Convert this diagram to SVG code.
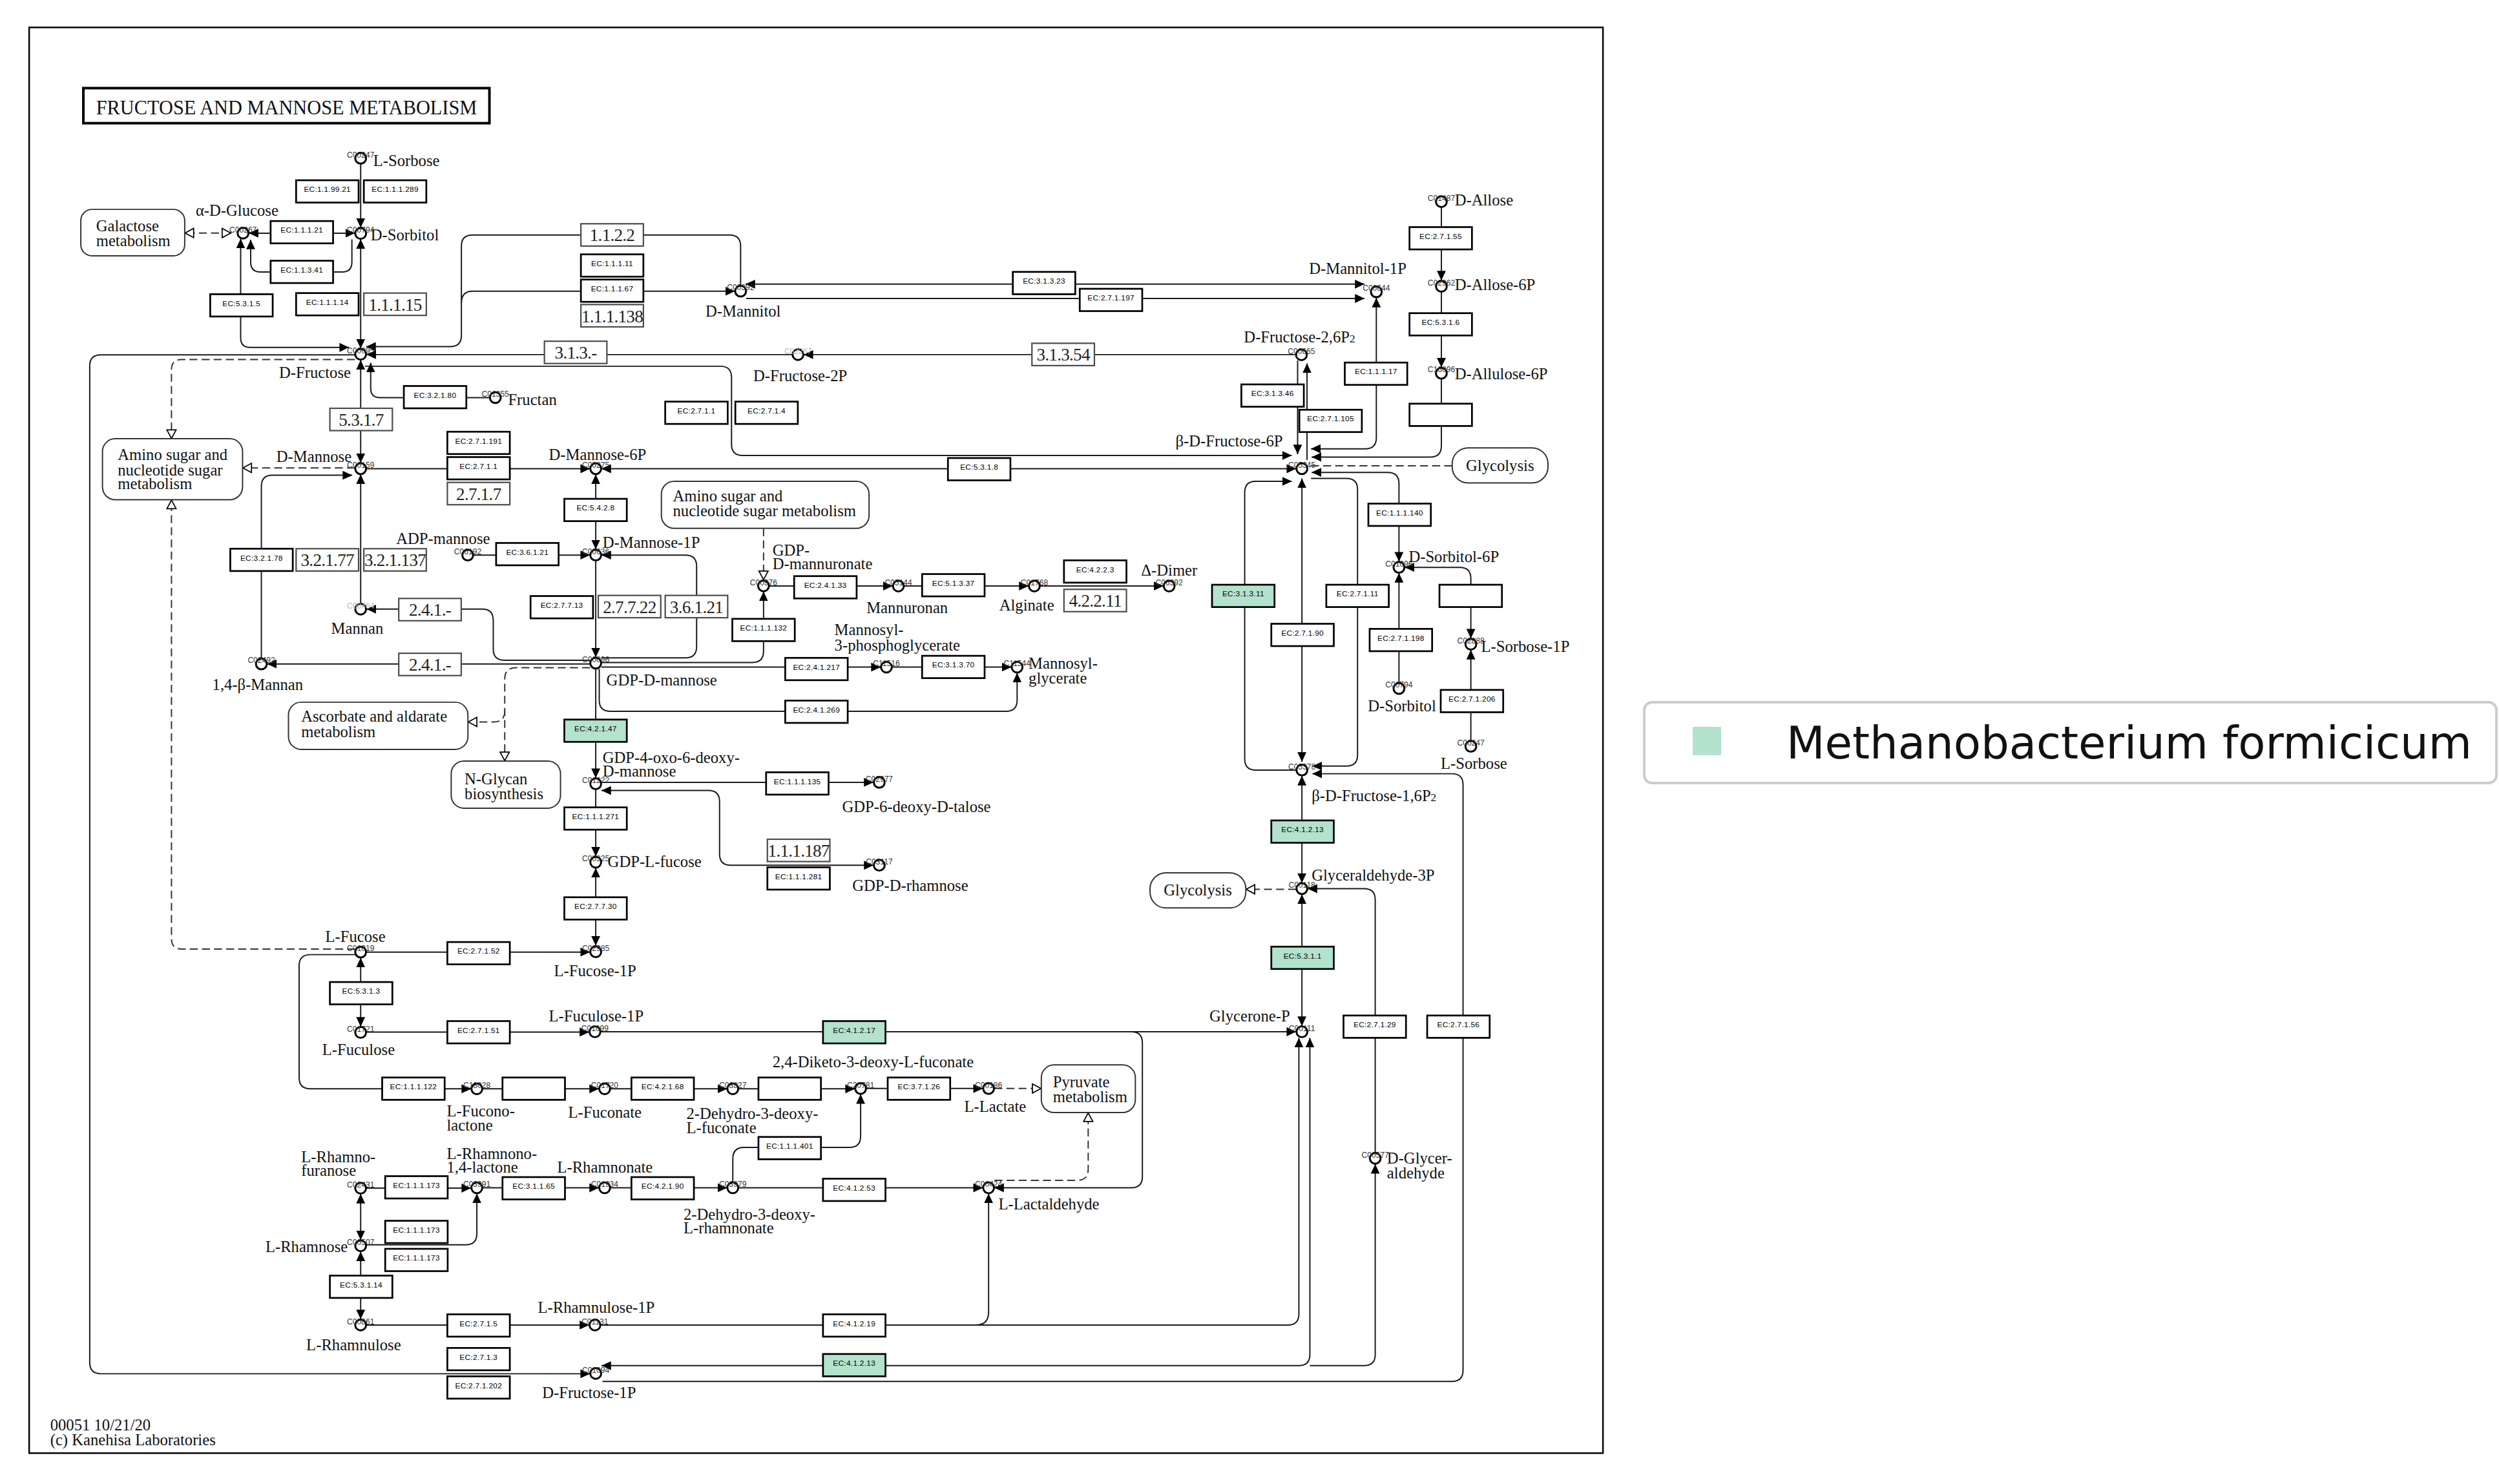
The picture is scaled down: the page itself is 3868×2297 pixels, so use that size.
<svg xmlns="http://www.w3.org/2000/svg" width="3868" height="2297" viewBox="0 0 3868 2297">
<defs>
<style>
.e{fill:none;stroke:#1a1a1a;stroke-width:0.8}
.a1{marker-end:url(#ar)}
.a2{marker-start:url(#ar);marker-end:url(#ar)}
.d{fill:none;stroke:#333;stroke-width:0.8;stroke-dasharray:5 2.6}
.h1{marker-end:url(#ho)}
.h2{marker-start:url(#ho);marker-end:url(#ho)}
.ec rect{fill:#fff;stroke:#000;stroke-width:1.1}
.ec.g rect{fill:#b3e2cd}
.ec text{font-family:"Liberation Sans",Arial,sans-serif;font-size:4.8px;text-anchor:middle;fill:#000;letter-spacing:0.12px}
.nm rect{fill:#fff;stroke:#4d4d4d;stroke-width:0.9}
.nm text{font-family:"Liberation Serif","Times New Roman",serif;font-size:11px;text-anchor:middle;fill:#222;letter-spacing:-0.3px}
.cp circle{fill:#fff;stroke:#000;stroke-width:1.2}
.id{font-family:"Liberation Sans",Arial,sans-serif;font-size:4.9px;text-anchor:middle;fill:#333}
.lt{fill:#bbb}
.lb{font-family:"Liberation Serif","Times New Roman",serif;font-size:10px;fill:#111}
.r{text-anchor:end}
.mp rect{fill:#fff;stroke:#333;stroke-width:0.8}
.sub{font-size:7px}
</style>
<marker id="ar" markerUnits="userSpaceOnUse" viewBox="0 0 6 6" markerWidth="6" markerHeight="6" refX="6" refY="3" orient="auto-start-reverse"><path d="M0,0.2L6,3L0,5.8z" fill="#000"/></marker>
<marker id="ho" markerUnits="userSpaceOnUse" viewBox="0 0 7 7" markerWidth="7" markerHeight="7" refX="6.2" refY="3.5" orient="auto-start-reverse"><path d="M0.6,0.6L6,3.5L0.6,6.4z" fill="#fff" stroke="#000" stroke-width="0.7"/></marker>
</defs>
<rect width="3868" height="2297" fill="#fff"/>
<g transform="scale(2.4668)">
<!-- outer frame and title -->
<rect x="18.3" y="17.2" width="987.5" height="894.6" fill="none" stroke="#000" stroke-width="1"/>
<g id="title">
<rect x="52.3" y="55.3" width="254.8" height="22" fill="#fff" stroke="#000" stroke-width="1.6"/>
<text x="60.3" y="71.6" font-family="Liberation Serif, Times New Roman, serif" font-size="12.5" textLength="239" lengthAdjust="spacingAndGlyphs" fill="#111">FRUCTOSE AND MANNOSE METABOLISM</text>
</g>

<g id="connectors">
<path class="e a1" d="M226.3,102.9V142.9"/>
<path class="e a2" d="M156.1,146.3H222.7"/>
<path class="e a1" d="M220.8,150.2V164.5Q220.8,170.7 214.6,170.7H163.5Q157.3,170.7 157.3,164.5V150.4"/>
<path class="e a2" d="M151,149.8V212Q151,218 157,218H219"/>
<path class="e a2" d="M226.3,150.1V218.7"/>
<path class="e a2" d="M226.3,225.9V290.5"/>
<path class="e a1" d="M307.4,249.5H238.5Q232.6,249.5 232.6,243.6V227.6"/>
<path class="e a1" d="M464.7,179.1V154.5Q464.7,147.5 457.7,147.5H296.5Q289.5,147.5 289.5,154.5V210.5Q289.5,217.5 282.5,217.5H229.8"/>
<path class="e a1" d="M289.5,190Q289.5,182.7 296.5,182.7H461.1"/>
<path class="e a1" d="M497.1,222.5H229.9"/>
<path class="e a1" d="M812.9,222.5H504.2"/>
<path class="e a1" d="M229,229.8H452Q459,229.8 459,236.8V278.8Q459,285.8 466,285.8H810.5"/>
<path class="e a1" d="M229.8,294.1H370.2"/>
<path class="e a2" d="M377.4,294.1H813.3"/>
<path class="e a2" d="M373.8,297.7V344.7"/>
<path class="e a1" d="M296.9,348.3H370.2"/>
<path class="e a1" d="M377.4,412.8H430.1Q437.1,412.8 437.1,405.8V355.3Q437.1,348.3 430.1,348.3H377.4"/>
<path class="e a1" d="M373.8,351.9V412.5"/>
<path class="e a1" d="M370.3,414.3H316.5Q309.5,414.3 309.5,407.3V389.2Q309.5,382.2 302.5,382.2H229.9"/>
<path class="e a1" d="M370.3,416.6H167.6"/>
<path class="e a1" d="M164,413V305.2Q164,298.2 171,298.2H221"/>
<path class="e a1" d="M226.3,378.6V297.7"/>
<path class="d h1" d="M222.7,225.6H114Q107.6,225.6 107.6,232V275.3"/>
<path class="d h1" d="M222.7,293.6H152.2"/>
<path class="d h1" d="M222.9,595.5H114Q107.6,595.5 107.6,589V313.6"/>
<path class="d h2" d="M145,146.2H115.9"/>
<path class="e a1" d="M222.7,222.7H63.3Q56.3,222.7 56.3,229.7V855Q56.3,862 63.3,862H370.2"/>
<path class="e a2" d="M467.8,178.3H856.2"/>
<path class="e a1" d="M468.2,187.3H856.2"/>
<path class="e a2" d="M863.6,186.9V274.6Q863.6,281.6 856.6,281.6H822.6"/>
<path class="e a1" d="M904.4,130.1V176"/>
<path class="e a1" d="M904.4,183.2V230.6"/>
<path class="e a1" d="M904.4,237.8V279.8Q904.4,286.8 897.4,286.8H823"/>
<path class="e a1" d="M814.2,226.2V285"/>
<path class="e a1" d="M820.1,288.6V228"/>
<path class="d" d="M911.2,292.3H822"/>
<path class="e a1" d="M813.3,483.2H788Q781,483.2 781,476.2V309Q781,302 788,302H810.5"/>
<path class="e a2" d="M816.9,300.2V478"/>
<path class="e a1" d="M822.6,300.2H844.8Q851.8,300.2 851.8,307.2V473.7Q851.8,480.7 844.8,480.7H823.5"/>
<path class="e a2" d="M823,296.4H870.8Q877.8,296.4 877.8,303.4V352.4"/>
<path class="e a1" d="M877.8,428.4V359.6"/>
<path class="e a2" d="M881.4,356H915.9Q922.9,356 922.9,363V400.6"/>
<path class="e a1" d="M922.9,464.7V407.8"/>
<path class="e a1" d="M378,866.8H911Q918,866.8 918,859.8V492.5Q918,485.5 911,485.5H823.5"/>
<path class="e a2" d="M816.9,486.8V554"/>
<path class="e a2" d="M816.9,561.2V643.8"/>
<path class="d h1" d="M813.3,558H781.7"/>
<path class="e a1" d="M862.9,723.2V564.6Q862.9,557.6 855.9,557.6H820.5"/>
<path class="e a1" d="M376.9,647.4H813.3"/>
<path class="e a1" d="M709.8,647.4Q716.8,647.4 716.8,654.4V738.3Q716.8,745.3 709.8,745.3H623.9"/>
<path class="e a1" d="M463.4,745.3H616.7"/>
<path class="e a1" d="M376.9,831.4H808Q815,831.4 815,824.4V651.2"/>
<path class="e a1" d="M612.3,831.4Q620.3,831.4 620.3,823.4V748.9"/>
<path class="e a2" d="M377.4,856.9H814.9Q821.9,856.9 821.9,849.9V651.2"/>
<path class="e a1" d="M821.9,856.9H855.9Q862.9,856.9 862.9,849.9V730.4"/>
<path class="e a2" d="M226.3,601V644.2"/>
<path class="e a1" d="M229.9,597.4H370.2"/>
<path class="e a1" d="M229.9,647.6H369.7"/>
<path class="e a2" d="M373.8,544.6V593.4"/>
<path class="e a1" d="M373.8,495.4V537.4"/>
<path class="e a1" d="M373.8,419.7V488.2"/>
<path class="e a1" d="M377.4,490.9H548.1"/>
<path class="e a2" d="M377.4,496H444.5Q451.5,496 451.5,503V535.9Q451.5,542.9 458.5,542.9H548.1"/>
<path class="e a1" d="M377.4,415.7H472.1Q479.1,415.7 479.1,408.7V371.1"/>
<path class="d h1" d="M479.1,331.5V363.9"/>
<path class="e a1" d="M482.7,367.7H560.1"/>
<path class="e a1" d="M567.3,367.7H645.4"/>
<path class="e a1" d="M652.6,367.7H730"/>
<path class="e a1" d="M377.3,418.6H552.6"/>
<path class="e a1" d="M559.8,418.6H634.6"/>
<path class="e a1" d="M376,419.7V439.3Q376,446.3 383,446.3H631.2Q638.2,446.3 638.2,439.3V422.2"/>
<path class="d h1" d="M370.2,419H323.7Q316.7,419 316.7,426V477.5"/>
<path class="d h1" d="M316.7,446Q316.7,453 309.7,453H293.6"/>
<path class="e a1" d="M222.9,599H194.7Q187.7,599 187.7,606V676.2Q187.7,683.2 194.7,683.2H295.6"/>
<path class="e a1" d="M302.8,683.2H375.8"/>
<path class="e a1" d="M383,683.2H456.2"/>
<path class="e a1" d="M463.4,683.2H536.4"/>
<path class="e a1" d="M459.8,741.7V727Q459.8,720 466.8,720H533Q540,720 540,713V686.6"/>
<path class="e a1" d="M543.6,683H616.7"/>
<path class="d h1" d="M623.9,683H653.4"/>
<path class="d h1" d="M624,740.6H675.8Q682.8,740.6 682.8,733.6V698.1"/>
<path class="e a1" d="M229.9,745.5H295.6"/>
<path class="e a1" d="M229.9,781.1H292.2Q299.2,781.1 299.2,774.1V748.9"/>
<path class="e a2" d="M226.3,749.1V778.1"/>
<path class="e a2" d="M226.3,785.3V827.8"/>
<path class="e a1" d="M229.9,831.4H369.7"/>
<path class="e a1" d="M302.8,745.3H375.8"/>
<path class="e a1" d="M383,745.3H456.2"/>
</g>

<!-- pathway map links -->
<g id="map-galactose" class="mp"><rect x="50.7" y="131.4" width="65.2" height="29.1" rx="7"/><text class="lb" x="60.3" y="145.2">Galactose</text><text class="lb" x="60.3" y="154.4">metabolism</text></g>
<g id="map-aminosugar-1" class="mp"><rect x="64.3" y="275.3" width="87.9" height="38.3" rx="8"/><text class="lb" x="73.9" y="288.7">Amino sugar and</text><text class="lb" x="73.9" y="298.3">nucleotide sugar</text><text class="lb" x="73.9" y="306.9">metabolism</text></g>
<g id="map-aminosugar-2" class="mp"><rect x="415" y="302" width="130.3" height="29.5" rx="8"/><text class="lb" x="422.2" y="314.5">Amino sugar and</text><text class="lb" x="422.2" y="323.9">nucleotide sugar metabolism</text></g>
<g id="map-ascorbate" class="mp"><rect x="181" y="440.6" width="112.6" height="29.6" rx="8"/><text class="lb" x="189" y="453">Ascorbate and aldarate</text><text class="lb" x="189" y="462.6">metabolism</text></g>
<g id="map-nglycan" class="mp"><rect x="283.1" y="477.5" width="68.6" height="29.6" rx="8"/><text class="lb" x="291.5" y="492.2">N-Glycan</text><text class="lb" x="291.5" y="501.4">biosynthesis</text></g>
<g id="map-glycolysis-1" class="mp"><rect x="911.2" y="281" width="60.1" height="22" rx="10"/><text class="lb" x="941.2" y="295.4" text-anchor="middle">Glycolysis</text></g>
<g id="map-glycolysis-2" class="mp"><rect x="721.6" y="547.7" width="60.1" height="22" rx="10"/><text class="lb" x="751.6" y="562" text-anchor="middle">Glycolysis</text></g>
<g id="map-pyruvate" class="mp"><rect x="653.4" y="668.2" width="59" height="29.9" rx="8"/><text class="lb" x="660.7" y="682.2">Pyruvate</text><text class="lb" x="660.7" y="691.4">metabolism</text></g>

<!-- enzyme boxes -->
<g id="ec-1-1-99-21" class="ec"><rect x="185.8" y="113.1" width="39.2" height="14"/><text x="205.4" y="120.5">EC:1.1.99.21</text></g>
<g id="ec-1-1-1-289" class="ec"><rect x="228.3" y="113.1" width="39.2" height="14"/><text x="247.9" y="120.5">EC:1.1.1.289</text></g>
<g id="ec-1-1-1-21" class="ec"><rect x="169.8" y="138.7" width="39.2" height="14"/><text x="189.4" y="146.1">EC:1.1.1.21</text></g>
<g id="ec-1-1-3-41" class="ec"><rect x="169.8" y="163.6" width="39.2" height="14"/><text x="189.4" y="171">EC:1.1.3.41</text></g>
<g id="ec-5-3-1-5" class="ec"><rect x="131.9" y="184.6" width="39.2" height="14"/><text x="151.5" y="192">EC:5.3.1.5</text></g>
<g id="ec-1-1-1-14" class="ec"><rect x="185.8" y="183.9" width="39.2" height="14"/><text x="205.4" y="191.3">EC:1.1.1.14</text></g>
<g id="nm-1-1-1-15" class="nm"><rect x="228.3" y="183.9" width="39.2" height="14"/><text x="247.9" y="194.9">1.1.1.15</text></g>
<g id="nm-1-1-2-2" class="nm"><rect x="364.5" y="140.4" width="39.2" height="14"/><text x="384.1" y="151.4">1.1.2.2</text></g>
<g id="ec-1-1-1-11" class="ec"><rect x="364.5" y="159.6" width="39.2" height="14"/><text x="384.1" y="167">EC:1.1.1.11</text></g>
<g id="ec-1-1-1-67" class="ec"><rect x="364.5" y="175.4" width="39.2" height="14"/><text x="384.1" y="182.8">EC:1.1.1.67</text></g>
<g id="nm-1-1-1-138" class="nm"><rect x="364.5" y="191.1" width="39.2" height="14"/><text x="384.1" y="202.1">1.1.1.138</text></g>
<g id="nm-3-1-3-x" class="nm"><rect x="341.6" y="214.1" width="39.2" height="14"/><text x="361.2" y="225.1">3.1.3.-</text></g>
<g id="ec-3-2-1-80" class="ec"><rect x="253.4" y="242.2" width="39.2" height="14"/><text x="273" y="249.6">EC:3.2.1.80</text></g>
<g id="nm-5-3-1-7" class="nm"><rect x="207" y="256.2" width="39.2" height="14"/><text x="226.6" y="267.2">5.3.1.7</text></g>
<g id="ec-2-7-1-191" class="ec"><rect x="280.7" y="270.9" width="39.2" height="14"/><text x="300.3" y="278.3">EC:2.7.1.191</text></g>
<g id="ec-2-7-1-1-a" class="ec"><rect x="280.7" y="286.8" width="39.2" height="14"/><text x="300.3" y="294.2">EC:2.7.1.1</text></g>
<g id="nm-2-7-1-7" class="nm"><rect x="280.7" y="302.7" width="39.2" height="14"/><text x="300.3" y="313.7">2.7.1.7</text></g>
<g id="ec-2-7-1-1-b" class="ec"><rect x="417.4" y="252" width="39.2" height="14"/><text x="437" y="259.4">EC:2.7.1.1</text></g>
<g id="ec-2-7-1-4" class="ec"><rect x="461.4" y="252" width="39.2" height="14"/><text x="481" y="259.4">EC:2.7.1.4</text></g>
<g id="ec-3-1-3-23" class="ec"><rect x="635.5" y="170.6" width="39.2" height="14"/><text x="655.1" y="178">EC:3.1.3.23</text></g>
<g id="ec-2-7-1-197" class="ec"><rect x="677.5" y="181.2" width="39.2" height="14"/><text x="697.1" y="188.6">EC:2.7.1.197</text></g>
<g id="nm-3-1-3-54" class="nm"><rect x="647.5" y="215.4" width="39.2" height="14"/><text x="667.1" y="226.4">3.1.3.54</text></g>
<g id="ec-5-3-1-8" class="ec"><rect x="594.8" y="287.4" width="39.2" height="14"/><text x="614.4" y="294.8">EC:5.3.1.8</text></g>
<g id="ec-2-7-1-55" class="ec"><rect x="884.4" y="142.5" width="39.2" height="14"/><text x="904" y="149.9">EC:2.7.1.55</text></g>
<g id="ec-5-3-1-6" class="ec"><rect x="884.4" y="196.5" width="39.2" height="14"/><text x="904" y="203.9">EC:5.3.1.6</text></g>
<g id="ec-blank-1" class="ec"><rect x="884.4" y="253.3" width="39.2" height="14"/></g>
<g id="ec-1-1-1-17" class="ec"><rect x="843.8" y="227.5" width="39.2" height="14"/><text x="863.4" y="234.9">EC:1.1.1.17</text></g>
<g id="ec-3-1-3-46" class="ec"><rect x="778.9" y="241.2" width="39.2" height="14"/><text x="798.5" y="248.6">EC:3.1.3.46</text></g>
<g id="ec-2-7-1-105" class="ec"><rect x="815.3" y="257.1" width="39.2" height="14"/><text x="834.9" y="264.5">EC:2.7.1.105</text></g>
<g id="ec-1-1-1-140" class="ec"><rect x="858.6" y="316" width="39.2" height="14"/><text x="878.2" y="323.4">EC:1.1.1.140</text></g>
<g id="ec-3-1-3-11" class="ec g"><rect x="760.5" y="366.9" width="39.2" height="14"/><text x="780.1" y="374.3">EC:3.1.3.11</text></g>
<g id="ec-2-7-1-11" class="ec"><rect x="832.2" y="366.9" width="39.2" height="14"/><text x="851.8" y="374.3">EC:2.7.1.11</text></g>
<g id="ec-2-7-1-90" class="ec"><rect x="797.7" y="391.4" width="39.2" height="14"/><text x="817.3" y="398.8">EC:2.7.1.90</text></g>
<g id="ec-2-7-1-198" class="ec"><rect x="859.4" y="394.6" width="39.2" height="14"/><text x="879" y="402">EC:2.7.1.198</text></g>
<g id="ec-blank-2" class="ec"><rect x="903.2" y="366.9" width="39.2" height="14"/></g>
<g id="ec-2-7-1-206" class="ec"><rect x="904" y="432.9" width="39.2" height="14"/><text x="923.6" y="440.3">EC:2.7.1.206</text></g>
<g id="ec-4-1-2-13-a" class="ec g"><rect x="797.7" y="514.8" width="39.2" height="14"/><text x="817.3" y="522.2">EC:4.1.2.13</text></g>
<g id="ec-5-3-1-1" class="ec g"><rect x="797.7" y="594" width="39.2" height="14"/><text x="817.3" y="601.4">EC:5.3.1.1</text></g>
<g id="ec-2-7-1-29" class="ec"><rect x="843" y="637.2" width="39.2" height="14"/><text x="862.6" y="644.6">EC:2.7.1.29</text></g>
<g id="ec-2-7-1-56" class="ec"><rect x="895.5" y="637.2" width="39.2" height="14"/><text x="915.1" y="644.6">EC:2.7.1.56</text></g>
<g id="ec-5-4-2-8" class="ec"><rect x="354.1" y="313" width="39.2" height="14"/><text x="373.7" y="320.4">EC:5.4.2.8</text></g>
<g id="ec-3-2-1-78" class="ec"><rect x="144.5" y="344.3" width="39.2" height="14"/><text x="164.1" y="351.7">EC:3.2.1.78</text></g>
<g id="nm-3-2-1-77" class="nm"><rect x="185.8" y="344.3" width="39.2" height="14"/><text x="205.4" y="355.3">3.2.1.77</text></g>
<g id="nm-3-2-1-137" class="nm"><rect x="228.3" y="344.3" width="39.2" height="14"/><text x="247.9" y="355.3">3.2.1.137</text></g>
<g id="ec-3-6-1-21" class="ec"><rect x="311.3" y="340.7" width="39.2" height="14"/><text x="330.9" y="348.1">EC:3.6.1.21</text></g>
<g id="nm-2-4-1-x-a" class="nm"><rect x="250.2" y="375.5" width="39.2" height="14"/><text x="269.8" y="386.5">2.4.1.-</text></g>
<g id="nm-2-4-1-x-b" class="nm"><rect x="250.2" y="409.9" width="39.2" height="14"/><text x="269.8" y="420.9">2.4.1.-</text></g>
<g id="ec-2-7-7-13" class="ec"><rect x="332.9" y="374" width="39.2" height="14"/><text x="352.5" y="381.4">EC:2.7.7.13</text></g>
<g id="nm-2-7-7-22" class="nm"><rect x="375.4" y="373.6" width="39.2" height="14"/><text x="395" y="384.6">2.7.7.22</text></g>
<g id="nm-3-6-1-21" class="nm"><rect x="417.4" y="373.6" width="39.2" height="14"/><text x="437" y="384.6">3.6.1.21</text></g>
<g id="ec-1-1-1-132" class="ec"><rect x="459.5" y="388.3" width="39.2" height="14"/><text x="479.1" y="395.7">EC:1.1.1.132</text></g>
<g id="ec-2-4-1-33" class="ec"><rect x="498.3" y="361.5" width="39.2" height="14"/><text x="517.9" y="368.9">EC:2.4.1.33</text></g>
<g id="ec-5-1-3-37" class="ec"><rect x="578.6" y="360.2" width="39.2" height="14"/><text x="598.2" y="367.6">EC:5.1.3.37</text></g>
<g id="ec-4-2-2-3" class="ec"><rect x="667.6" y="351.6" width="39.2" height="14"/><text x="687.2" y="359">EC:4.2.2.3</text></g>
<g id="nm-4-2-2-11" class="nm"><rect x="667.6" y="369.8" width="39.2" height="14"/><text x="687.2" y="380.8">4.2.2.11</text></g>
<g id="ec-2-4-1-217" class="ec"><rect x="492.7" y="412.8" width="39.2" height="14"/><text x="512.3" y="420.2">EC:2.4.1.217</text></g>
<g id="ec-3-1-3-70" class="ec"><rect x="578.6" y="411.5" width="39.2" height="14"/><text x="598.2" y="418.9">EC:3.1.3.70</text></g>
<g id="ec-2-4-1-269" class="ec"><rect x="492.7" y="439.6" width="39.2" height="14"/><text x="512.3" y="447">EC:2.4.1.269</text></g>
<g id="ec-4-2-1-47" class="ec g"><rect x="354.1" y="451.5" width="39.2" height="14"/><text x="373.7" y="458.9">EC:4.2.1.47</text></g>
<g id="ec-1-1-1-135" class="ec"><rect x="480.7" y="484.6" width="39.2" height="14"/><text x="500.3" y="492">EC:1.1.1.135</text></g>
<g id="ec-1-1-1-271" class="ec"><rect x="354.1" y="506.6" width="39.2" height="14"/><text x="373.7" y="514">EC:1.1.1.271</text></g>
<g id="nm-1-1-1-187" class="nm"><rect x="481.5" y="526.6" width="39.2" height="14"/><text x="501.1" y="537.6">1.1.1.187</text></g>
<g id="ec-1-1-1-281" class="ec"><rect x="481.5" y="544.2" width="39.2" height="14"/><text x="501.1" y="551.6">EC:1.1.1.281</text></g>
<g id="ec-2-7-7-30" class="ec"><rect x="354.1" y="563" width="39.2" height="14"/><text x="373.7" y="570.4">EC:2.7.7.30</text></g>
<g id="ec-2-7-1-52" class="ec"><rect x="280.7" y="591.1" width="39.2" height="14"/><text x="300.3" y="598.5">EC:2.7.1.52</text></g>
<g id="ec-5-3-1-3" class="ec"><rect x="207" y="616.2" width="39.2" height="14"/><text x="226.6" y="623.6">EC:5.3.1.3</text></g>
<g id="ec-2-7-1-51" class="ec"><rect x="280.7" y="640.7" width="39.2" height="14"/><text x="300.3" y="648.1">EC:2.7.1.51</text></g>
<g id="ec-4-1-2-17" class="ec g"><rect x="516.4" y="640.7" width="39.2" height="14"/><text x="536" y="648.1">EC:4.1.2.17</text></g>
<g id="ec-1-1-1-122" class="ec"><rect x="239.8" y="676.1" width="39.2" height="14"/><text x="259.4" y="683.5">EC:1.1.1.122</text></g>
<g id="ec-blank-3" class="ec"><rect x="315.3" y="676.1" width="39.2" height="14"/></g>
<g id="ec-4-2-1-68" class="ec"><rect x="396.2" y="676.1" width="39.2" height="14"/><text x="415.8" y="683.5">EC:4.2.1.68</text></g>
<g id="ec-blank-4" class="ec"><rect x="475.9" y="676.1" width="39.2" height="14"/></g>
<g id="ec-3-7-1-26" class="ec"><rect x="557" y="676.1" width="39.2" height="14"/><text x="576.6" y="683.5">EC:3.7.1.26</text></g>
<g id="ec-1-1-1-401" class="ec"><rect x="475.9" y="713.4" width="39.2" height="14"/><text x="495.5" y="720.8">EC:1.1.1.401</text></g>
<g id="ec-1-1-1-173-a" class="ec"><rect x="241.7" y="738" width="39.2" height="14"/><text x="261.3" y="745.4">EC:1.1.1.173</text></g>
<g id="ec-3-1-1-65" class="ec"><rect x="315.3" y="738.6" width="39.2" height="14"/><text x="334.9" y="746">EC:3.1.1.65</text></g>
<g id="ec-4-2-1-90" class="ec"><rect x="396.2" y="738.6" width="39.2" height="14"/><text x="415.8" y="746">EC:4.2.1.90</text></g>
<g id="ec-4-1-2-53" class="ec"><rect x="516.4" y="739.6" width="39.2" height="14"/><text x="536" y="747">EC:4.1.2.53</text></g>
<g id="ec-1-1-1-173-b" class="ec"><rect x="241.7" y="766" width="39.2" height="14"/><text x="261.3" y="773.4">EC:1.1.1.173</text></g>
<g id="ec-1-1-1-173-c" class="ec"><rect x="241.7" y="783.6" width="39.2" height="14"/><text x="261.3" y="791">EC:1.1.1.173</text></g>
<g id="ec-5-3-1-14" class="ec"><rect x="207" y="800.4" width="39.2" height="14"/><text x="226.6" y="807.8">EC:5.3.1.14</text></g>
<g id="ec-2-7-1-5" class="ec"><rect x="280.7" y="824.7" width="39.2" height="14"/><text x="300.3" y="832.1">EC:2.7.1.5</text></g>
<g id="ec-4-1-2-19" class="ec"><rect x="516.4" y="824.7" width="39.2" height="14"/><text x="536" y="832.1">EC:4.1.2.19</text></g>
<g id="ec-2-7-1-3" class="ec"><rect x="280.7" y="845.8" width="39.2" height="14"/><text x="300.3" y="853.2">EC:2.7.1.3</text></g>
<g id="ec-2-7-1-202" class="ec"><rect x="280.7" y="863.6" width="39.2" height="14"/><text x="300.3" y="871">EC:2.7.1.202</text></g>
<g id="ec-4-1-2-13-b" class="ec g"><rect x="516.4" y="849.6" width="39.2" height="14"/><text x="536" y="857">EC:4.1.2.13</text></g>

<!-- compounds -->
<g id="C00247-a" class="cp"><circle cx="226.3" cy="99.3" r="3.4"/><text class="id" x="226.3" y="98.8">C00247</text><text class="lb" x="234.2" y="104.1">L-Sorbose</text></g>
<g id="C00267" class="cp"><circle cx="152.5" cy="146.3" r="3.4"/><text class="id" x="152.5" y="145.8">C00267</text><text class="lb" x="122.8" y="135.6">α-D-Glucose</text></g>
<g id="C00794-a" class="cp"><circle cx="226.3" cy="146.5" r="3.4"/><text class="id" x="226.3" y="146">C00794</text><text class="lb" x="232.6" y="151">D-Sorbitol</text></g>
<g id="C00095" class="cp"><circle cx="226.3" cy="222.3" r="3.4"/><text class="id" x="226.3" y="221.8">C00095</text><text class="lb r" x="220.1" y="237">D-Fructose</text></g>
<g id="C00159" class="cp"><circle cx="226.3" cy="294.1" r="3.4"/><text class="id" x="226.3" y="293.6">C00159</text><text class="lb r" x="220.6" y="289.7">D-Mannose</text></g>
<g id="C01355" class="cp"><circle cx="310.8" cy="249.5" r="3.4"/><text class="id" x="310.8" y="249">C01355</text><text class="lb" x="318.8" y="254.3">Fructan</text></g>
<g id="C00392" class="cp"><circle cx="464.7" cy="182.7" r="3.4"/><text class="id" x="464.7" y="182.2">C00392</text><text class="lb" x="442.7" y="198.8">D-Mannitol</text></g>
<g id="C02267" class="cp"><circle cx="500.7" cy="222.5" r="3.4"/><text class="id lt" x="500.7" y="222">C02267</text><text class="lb" x="472.7" y="239">D-Fructose-2P</text></g>
<g id="C00275" class="cp"><circle cx="373.8" cy="294.1" r="3.4"/><text class="id" x="373.8" y="293.6">C00275</text><text class="lb" x="344.4" y="288.7">D-Mannose-6P</text></g>
<g id="C00644" class="cp"><circle cx="863.6" cy="183.1" r="3.4"/><text class="id" x="863.6" y="182.6">C00644</text><text class="lb" x="821.4" y="172">D-Mannitol-1P</text></g>
<g id="C00665" class="cp"><circle cx="816.6" cy="222.6" r="3.4"/><text class="id" x="816.6" y="222.1">C00665</text><text class="lb" x="780.5" y="215">D-Fructose-2,6P<tspan class="sub">2</tspan></text></g>
<g id="C05345" class="cp"><circle cx="816.9" cy="294.1" r="3.4"/><text class="id" x="816.9" y="293.6">C05345</text><text class="lb" x="737.6" y="280.1">β-D-Fructose-6P</text></g>
<g id="C01487" class="cp"><circle cx="904.4" cy="126.5" r="3.4"/><text class="id" x="904.4" y="126">C01487</text><text class="lb" x="912.8" y="129">D-Allose</text></g>
<g id="C02962" class="cp"><circle cx="904.4" cy="179.6" r="3.4"/><text class="id" x="904.4" y="179.1">C02962</text><text class="lb" x="912.8" y="181.9">D-Allose-6P</text></g>
<g id="C16096" class="cp"><circle cx="904.4" cy="234.2" r="3.4"/><text class="id" x="904.4" y="233.7">C16096</text><text class="lb" x="912.8" y="238">D-Allulose-6P</text></g>
<g id="C01096" class="cp"><circle cx="877.8" cy="356" r="3.4"/><text class="id" x="877.8" y="355.5">C01096</text><text class="lb" x="883.9" y="352.5">D-Sorbitol-6P</text></g>
<g id="C00794-b" class="cp"><circle cx="877.8" cy="432" r="3.4"/><text class="id" x="877.8" y="431.5">C00794</text><text class="lb" x="858.3" y="446.3">D-Sorbitol</text></g>
<g id="C02888" class="cp"><circle cx="922.9" cy="404.2" r="3.4"/><text class="id" x="922.9" y="403.7">C02888</text><text class="lb" x="929.3" y="409">L-Sorbose-1P</text></g>
<g id="C00247-b" class="cp"><circle cx="922.9" cy="468.3" r="3.4"/><text class="id" x="922.9" y="467.8">C00247</text><text class="lb" x="904" y="482.3">L-Sorbose</text></g>
<g id="C05378" class="cp"><circle cx="816.9" cy="483.2" r="3.4"/><text class="id" x="816.9" y="482.7">C05378</text><text class="lb" x="823" y="502.7">β-D-Fructose-1,6P<tspan class="sub">2</tspan></text></g>
<g id="C00118" class="cp"><circle cx="816.9" cy="557.6" r="3.4"/><text class="id" x="816.9" y="557.1">C00118</text><text class="lb" x="823" y="552.5">Glyceraldehyde-3P</text></g>
<g id="C00111" class="cp"><circle cx="816.9" cy="647.4" r="3.4"/><text class="id" x="816.9" y="646.9">C00111</text><text class="lb r" x="809.4" y="641">Glycerone-P</text></g>
<g id="C00577" class="cp"><circle cx="862.9" cy="726.8" r="3.4"/><text class="id" x="862.9" y="726.3">C00577</text><text class="lb" x="870.3" y="730">D-Glycer-</text><text class="lb" x="870.3" y="739.6">aldehyde</text></g>
<g id="C00636" class="cp"><circle cx="373.8" cy="348.3" r="3.4"/><text class="id" x="373.8" y="347.8">C00636</text><text class="lb" x="378.1" y="343.6">D-Mannose-1P</text></g>
<g id="C06192" class="cp"><circle cx="293.5" cy="348.3" r="3.4"/><text class="id" x="293.5" y="347.8">C06192</text><text class="lb" x="248.6" y="341.5">ADP-mannose</text></g>
<g id="C00464" class="cp"><circle cx="226.3" cy="382.2" r="3.4"/><text class="id lt" x="226.3" y="381.7">C00464</text><text class="lb" x="207.8" y="397.5">Mannan</text></g>
<g id="C02492" class="cp"><circle cx="164" cy="416.6" r="3.4"/><text class="id" x="164" y="416.1">C02492</text><text class="lb" x="133.2" y="432.9">1,4-β-Mannan</text></g>
<g id="C00096" class="cp"><circle cx="373.8" cy="416.1" r="3.4"/><text class="id" x="373.8" y="415.6">C00096</text><text class="lb" x="380.5" y="430">GDP-D-mannose</text></g>
<g id="C00976" class="cp"><circle cx="479.1" cy="367.6" r="3.4"/><text class="id" x="479.1" y="367.1">C00976</text><text class="lb" x="484.7" y="348.7">GDP-</text><text class="lb" x="484.7" y="357.3">D-mannuronate</text></g>
<g id="C05144" class="cp"><circle cx="563.7" cy="367.7" r="3.4"/><text class="id" x="563.7" y="367.2">C05144</text><text class="lb" x="543.7" y="384.7">Mannuronan</text></g>
<g id="C01768" class="cp"><circle cx="649" cy="367.7" r="3.4"/><text class="id" x="649" y="367.2">C01768</text><text class="lb" x="627" y="383.2">Alginate</text></g>
<g id="C06392" class="cp"><circle cx="733.6" cy="367.7" r="3.4"/><text class="id" x="733.6" y="367.2">C06392</text><text class="lb" x="716" y="361">Δ-Dimer</text></g>
<g id="C11516" class="cp"><circle cx="556.2" cy="418.6" r="3.4"/><text class="id" x="556.2" y="418.1">C11516</text><text class="lb" x="523.6" y="398.5">Mannosyl-</text><text class="lb" x="523.6" y="408.1">3-phosphoglycerate</text></g>
<g id="C11544" class="cp"><circle cx="638.2" cy="418.6" r="3.4"/><text class="id" x="638.2" y="418.1">C11544</text><text class="lb" x="645.4" y="419.4">Mannosyl-</text><text class="lb" x="645.4" y="428.9">glycerate</text></g>
<g id="C01222" class="cp"><circle cx="373.8" cy="491.8" r="3.4"/><text class="id" x="373.8" y="491.3">C01222</text><text class="lb" x="378.1" y="478.8">GDP-4-oxo-6-deoxy-</text><text class="lb" x="378.1" y="487.4">D-mannose</text></g>
<g id="C02977" class="cp"><circle cx="551.7" cy="490.9" r="3.4"/><text class="id" x="551.7" y="490.4">C02977</text><text class="lb" x="528.4" y="509.4">GDP-6-deoxy-D-talose</text></g>
<g id="C00325" class="cp"><circle cx="373.8" cy="541" r="3.4"/><text class="id" x="373.8" y="540.5">C00325</text><text class="lb" x="381.3" y="544.2">GDP-L-fucose</text></g>
<g id="C03117" class="cp"><circle cx="551.7" cy="542.9" r="3.4"/><text class="id" x="551.7" y="542.4">C03117</text><text class="lb" x="534.8" y="559.2">GDP-D-rhamnose</text></g>
<g id="C02985" class="cp"><circle cx="373.8" cy="597.2" r="3.4"/><text class="id" x="373.8" y="596.7">C02985</text><text class="lb" x="347.6" y="612.7">L-Fucose-1P</text></g>
<g id="C01019" class="cp"><circle cx="226.3" cy="597.4" r="3.4"/><text class="id" x="226.3" y="596.9">C01019</text><text class="lb" x="204.1" y="591.1">L-Fucose</text></g>
<g id="C01721" class="cp"><circle cx="226.3" cy="647.8" r="3.4"/><text class="id" x="226.3" y="647.3">C01721</text><text class="lb" x="202.2" y="662.1">L-Fuculose</text></g>
<g id="C01099" class="cp"><circle cx="373.3" cy="647.4" r="3.4"/><text class="id" x="373.3" y="646.9">C01099</text><text class="lb" x="344.4" y="641.1">L-Fuculose-1P</text></g>
<g id="C18028" class="cp"><circle cx="299.2" cy="683.2" r="3.4"/><text class="id" x="299.2" y="682.7">C18028</text><text class="lb" x="280.3" y="700.4">L-Fucono-</text><text class="lb" x="280.3" y="709.6">lactone</text></g>
<g id="C01720" class="cp"><circle cx="379.4" cy="683.2" r="3.4"/><text class="id" x="379.4" y="682.7">C01720</text><text class="lb" x="356.5" y="701.3">L-Fuconate</text></g>
<g id="C03827" class="cp"><circle cx="459.8" cy="683.2" r="3.4"/><text class="id" x="459.8" y="682.7">C03827</text><text class="lb" x="430.7" y="702.3">2-Dehydro-3-deoxy-</text><text class="lb" x="430.7" y="710.9">L-fuconate</text></g>
<g id="C20781" class="cp"><circle cx="540" cy="683" r="3.4"/><text class="id" x="540" y="682.5">C20781</text><text class="lb" x="484.7" y="669.8">2,4-Diketo-3-deoxy-L-fuconate</text></g>
<g id="C00186" class="cp"><circle cx="620.3" cy="683" r="3.4"/><text class="id" x="620.3" y="682.5">C00186</text><text class="lb" x="605" y="697.5">L-Lactate</text></g>
<g id="C02431" class="cp"><circle cx="226.3" cy="745.5" r="3.4"/><text class="id" x="226.3" y="745">C02431</text><text class="lb" x="189" y="729.1">L-Rhamno-</text><text class="lb" x="189" y="737.7">furanose</text></g>
<g id="C03991" class="cp"><circle cx="299.2" cy="745.3" r="3.4"/><text class="id" x="299.2" y="744.8">C03991</text><text class="lb" x="280.3" y="727.2">L-Rhamnono-</text><text class="lb" x="280.3" y="735.8">1,4-lactone</text></g>
<g id="C01934" class="cp"><circle cx="379.4" cy="745.3" r="3.4"/><text class="id" x="379.4" y="744.8">C01934</text><text class="lb" x="349.6" y="735.8">L-Rhamnonate</text></g>
<g id="C03979" class="cp"><circle cx="459.8" cy="745.3" r="3.4"/><text class="id" x="459.8" y="744.8">C03979</text><text class="lb" x="428.9" y="765.4">2-Dehydro-3-deoxy-</text><text class="lb" x="428.9" y="774">L-rhamnonate</text></g>
<g id="C00424" class="cp"><circle cx="620.3" cy="745.3" r="3.4"/><text class="id" x="620.3" y="744.8">C00424</text><text class="lb" x="626.5" y="758.7">L-Lactaldehyde</text></g>
<g id="C00507" class="cp"><circle cx="226.3" cy="781.7" r="3.4"/><text class="id" x="226.3" y="781.2">C00507</text><text class="lb r" x="218.2" y="785.5">L-Rhamnose</text></g>
<g id="C00861" class="cp"><circle cx="226.3" cy="831.4" r="3.4"/><text class="id" x="226.3" y="830.9">C00861</text><text class="lb" x="192.2" y="847.3">L-Rhamnulose</text></g>
<g id="C01131" class="cp"><circle cx="373.3" cy="831.4" r="3.4"/><text class="id" x="373.3" y="830.9">C01131</text><text class="lb" x="337.5" y="823.8">L-Rhamnulose-1P</text></g>
<g id="C01094" class="cp"><circle cx="373.8" cy="861.8" r="3.4"/><text class="id" x="373.8" y="861.3">C01094</text><text class="lb" x="340.2" y="877.4">D-Fructose-1P</text></g>

<g id="footer"><text class="lb" x="31.5" y="897.4">00051 10/21/20</text><text class="lb" x="31.5" y="907">(c) Kanehisa Laboratories</text></g>
</g>

<!-- organism legend -->
<g id="legend">
<rect x="2545" y="1087" width="1319" height="125" rx="12" fill="#fff" stroke="#cccccc" stroke-width="4"/>
<rect x="2620" y="1125" width="44" height="44" fill="#b3e2cd"/>
<text x="2765" y="1174" font-family="DejaVu Sans, sans-serif" font-size="69" fill="#111">Methanobacterium formicicum</text>
</g>
</svg>
